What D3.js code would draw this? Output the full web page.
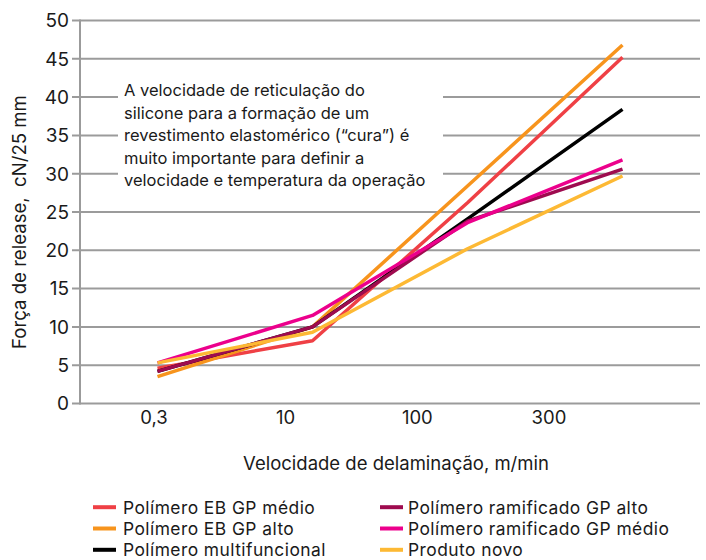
<!DOCTYPE html>
<html>
<head>
<meta charset="utf-8">
<script src="https://cdn.jsdelivr.net/npm/d3@7"></script>
<style>
  html, body { margin: 0; padding: 0; background: #fff; }
  svg { display: block; font-family: Inter, "Liberation Sans", Arial, sans-serif; }
</style>
</head>
<body>
<svg id="chart" width="706" height="560"></svg>
<script>
// ---- data ----
const categories = ["0,3", "10", "100", "300"];
const yTicks = [0, 5, 10, 15, 20, 25, 30, 35, 40, 45, 50];
const seriesNames = [
  "Polímero EB GP médio",
  "Polímero EB GP alto",
  "Polímero multifuncional",
  "Polímero ramificado GP alto",
  "Polímero ramificado GP médio",
  "Produto novo"
];
const ebMedio      = [4.6, 8.2, 26.2, 45.2];
const ebAlto       = [3.5, 10.0, 28.4, 46.8];
const multifunc    = [4.2, 10.0, 24.1, 38.4];
const ramifAlto    = [4.2, 10.0, 23.8, 30.6];
const ramifMedio   = [5.3, 11.5, 23.6, 31.8];
const produtoNovo  = [5.3, 9.3, 20.2, 29.7];
const seriesValues = [ebMedio, ebAlto, multifunc, ramifAlto, ramifMedio, produtoNovo];
const seriesColors = ["#ef4045", "#f7941d", "#000000", "#9e0b4f", "#ec008c", "#fdb934"];
const annotation = [
  "A velocidade de reticulação do",
  "silicone para a formação de um",
  "revestimento elastomérico (“cura”) é",
  "muito importante para definir a",
  "velocidade e temperatura da operação"
];
const xTitle = "Velocidade de delaminação, m/min";
const yTitle = "Força de release,  cN/25 mm";

// ---- layout ----
const svg = d3.select("#chart");
const plotLeft = 80, plotRight = 700, plotTop = 20.5, plotBottom = 403.5;
const grid = "#9b9b9b";

const x = d3.scaleBand().domain(categories).range([plotLeft, plotRight]);
const xLabel = d3.scalePoint().domain(categories).range([154, 549]);
const y = d3.scaleLinear().domain([0, 50]).range([plotBottom, plotTop]);

// gridlines + tick stubs
svg.append("g").selectAll("line").data(yTicks).join("line")
  .attr("x1", plotLeft - 8).attr("x2", plotRight)
  .attr("y1", d => y(d)).attr("y2", d => y(d))
  .attr("stroke", grid).attr("stroke-width", 2);

// y axis line
svg.append("line")
  .attr("x1", plotLeft).attr("x2", plotLeft).attr("y1", y(50) - 1).attr("y2", y(0) + 1)
  .attr("stroke", grid).attr("stroke-width", 2);

// y tick labels
svg.append("g").selectAll("text").data(yTicks).join("text")
  .attr("x", plotLeft - 11).attr("y", d => y(d) + 6.8)
  .attr("text-anchor", "end").attr("font-size", 19).attr("fill", "#1a1a1a")
  .text(d => d);

// x tick labels
svg.append("g").selectAll("text").data(categories).join("text")
  .attr("x", d => xLabel(d)).attr("y", 424)
  .attr("text-anchor", "middle").attr("font-size", 18.5).attr("fill", "#1a1a1a")
  .text(d => d);

// annotation box
svg.append("rect").attr("x", 118).attr("y", 72).attr("width", 325).attr("height", 125).attr("fill", "#fff");
svg.append("g").selectAll("text").data(annotation).join("text")
  .attr("x", 124).attr("y", (d, i) => 96 + i * 22.6)
  .attr("font-size", 16.5).attr("fill", "#1a1a1a")
  .text(d => d);

// lines
const line = d3.line()
  .x((d, i) => x(categories[i]) + x.bandwidth() / 2)
  .y(d => y(d));
svg.append("g").selectAll("path").data(seriesValues).join("path")
  .attr("d", d => line(d))
  .attr("fill", "none")
  .attr("stroke", (d, i) => seriesColors[i])
  .attr("stroke-width", 3.5)
  .attr("stroke-linejoin", "round");

// axis titles
svg.append("text").attr("x", 396).attr("y", 470)
  .attr("text-anchor", "middle").attr("font-size", 18.5).attr("fill", "#1a1a1a")
  .text(xTitle);
svg.append("text")
  .attr("transform", "translate(25.5,222) rotate(-90)")
  .attr("text-anchor", "middle").attr("font-size", 18.6).attr("fill", "#1a1a1a")
  .style("white-space", "pre")
  .text(yTitle);

// legend
const legend = svg.append("g").selectAll("g").data(seriesNames).join("g")
  .attr("transform", (d, i) => `translate(${i < 3 ? 93 : 380},${513.5 + (i % 3) * 21.3})`);
legend.append("line")
  .attr("x1", 0).attr("x2", 23).attr("y1", -6.3).attr("y2", -6.3)
  .attr("stroke", (d, i) => seriesColors[i]).attr("stroke-width", 4);
legend.append("text")
  .attr("x", (d, i) => i < 3 ? 30 : 28).attr("y", 0)
  .attr("font-size", 17.4).attr("letter-spacing", 0.45).attr("fill", "#1a1a1a")
  .text(d => d);
</script>
</body>
</html>
